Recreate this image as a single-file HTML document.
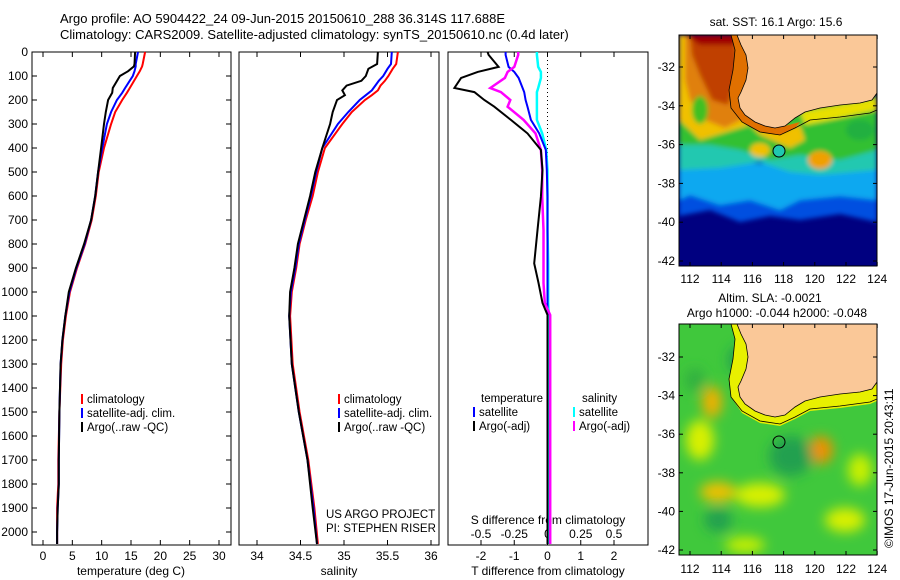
<!DOCTYPE html>
<html><head><meta charset="utf-8">
<style>
html,body{margin:0;padding:0;background:#fff;}
svg{display:block;font-family:"Liberation Sans",sans-serif;}
</style></head>
<body>
<svg id="fig" width="900" height="580" viewBox="0 0 900 580" xmlns="http://www.w3.org/2000/svg">
<defs>
<clipPath id="clipTop"><rect x="679" y="35" width="198" height="231"/></clipPath>
<clipPath id="clipBot"><rect x="679" y="324" width="198" height="231"/></clipPath>
<filter id="blur6"><feGaussianBlur stdDeviation="6"/></filter>
<filter id="blur3"><feGaussianBlur stdDeviation="2.5"/></filter>
</defs>
<text x="60" y="23" font-size="13">Argo profile: AO 5904422_24 09-Jun-2015 20150610_288 36.314S 117.688E</text>
<text x="60" y="39" font-size="13">Climatology: CARS2009. Satellite-adjusted climatology: synTS_20150610.nc (0.4d later)</text>

<!-- top map -->
<g clip-path="url(#clipTop)">
 <rect x="679" y="35" width="198" height="231" fill="#000080"/>
 <g filter="url(#blur3)">
  <polygon points="679,180 877,180 877,222 840,214 800,220 770,216 740,222 710,210 679,216" fill="#0050e0"/>
  <polygon points="679,162 877,165 877,200 840,196 800,200 780,210 750,200 720,205 690,195 679,200" fill="#10a8f0"/>
  <polygon points="679,140 877,140 877,170 820,175 790,172 760,162 720,168 679,170" fill="#20c8b0"/>
  <polygon points="679,95 877,95 877,150 840,160 800,155 770,160 740,150 710,145 679,145" fill="#30c030"/>
  <polygon points="679,35 740,35 745,120 760,135 790,148 805,140 800,125 780,130 750,125 700,140 679,120" fill="#f0c000"/>
  <polygon points="685,35 740,35 742,90 740,110 755,125 785,132 790,128 770,125 745,118 725,128 705,120 690,100 685,80" fill="#e08010"/>
  <polygon points="690,35 735,35 738,70 728,105 712,100 700,75 692,55" fill="#c04000"/>
  <polygon points="685,35 740,35 735,45 700,45" fill="#a00000"/>
  <polygon points="800,112 877,98 877,110 840,118 805,125" fill="#e8e000"/>
  <ellipse cx="820" cy="160" rx="12" ry="9" fill="#f0a000"/>
  <ellipse cx="760" cy="150" rx="10" ry="7" fill="#f0c000"/>
  <ellipse cx="860" cy="130" rx="14" ry="10" fill="#20b040"/>
  <ellipse cx="700" cy="110" rx="8" ry="14" fill="#40c020"/>
 </g>
 <polygon points="731,35 735,50 733,70 729,90 731,108 742,122 760,132 780,135 795,128 800,122 785,126 775,128 765,126 755,122 745,115 740,108 738,98 741,92 746,80 748,68 746,55 741,45 737,35" fill="#e07000"/>
 <polygon points="737,35 741,45 746,55 748,68 746,80 741,92 738,98 740,108 745,115 755,122 765,126 775,128 785,126 795,118 805,112 820,108 840,105 860,103 872,100 877,93 877,35" fill="#fac898" stroke="#000" stroke-width="0.8"/>
 <polyline points="731,35 735,50 733,70 729,90 731,108 742,122 760,132 780,135 795,128 810,120 840,117 870,113 877,110" fill="none" stroke="#000" stroke-width="0.8"/>
 <circle cx="779" cy="151" r="6" fill="#20c8b0" stroke="#000" stroke-width="1"/>
</g>
<rect x="679" y="35" width="198" height="231" fill="none" stroke="#000" stroke-width="1"/>
<text x="776" y="26" font-size="12" text-anchor="middle">sat. SST: 16.1  Argo: 15.6</text>

<!-- bottom map -->
<g clip-path="url(#clipBot)">
 <rect x="679" y="324" width="198" height="231" fill="#40c83c"/>
 <g filter="url(#blur6)">
  <ellipse cx="712" cy="402" rx="10" ry="16" fill="#f0b000"/>
  <ellipse cx="821" cy="450" rx="12" ry="14" fill="#f09000"/>
  <ellipse cx="718" cy="492" rx="18" ry="10" fill="#f0c000"/>
  <ellipse cx="760" cy="495" rx="25" ry="12" fill="#d8f000"/>
  <ellipse cx="845" cy="520" rx="20" ry="12" fill="#d8f000"/>
  <ellipse cx="700" cy="440" rx="14" ry="20" fill="#d8f000"/>
  <ellipse cx="860" cy="470" rx="12" ry="16" fill="#c8f000"/>
  <ellipse cx="745" cy="545" rx="20" ry="8" fill="#c8f000"/>
  <ellipse cx="791" cy="456" rx="22" ry="20" fill="#20a050"/>
  <ellipse cx="718" cy="520" rx="14" ry="12" fill="#20a050"/>
  <ellipse cx="740" cy="360" rx="12" ry="14" fill="#20a050"/>
  <ellipse cx="695" cy="380" rx="10" ry="12" fill="#30b040"/>
 </g>
 <g transform="translate(0,289)">
  <polygon points="731,35 735,50 733,70 729,90 731,108 742,124 760,134 780,137 795,130 810,122 840,119 870,115 877,112 877,35" fill="#e8f000"/>
  <polygon points="737,35 741,45 746,55 748,68 746,80 741,92 738,98 740,108 745,115 755,122 765,126 775,128 785,126 795,118 805,112 820,108 840,105 860,103 872,100 877,93 877,35" fill="#fac898" stroke="#000" stroke-width="0.8"/>
  <polyline points="731,35 735,50 733,70 729,90 731,108 742,122 760,132 780,135 795,128 810,120 840,117 870,113 877,110" fill="none" stroke="#000" stroke-width="0.8"/>
 </g>
 <circle cx="779" cy="442" r="6" fill="none" stroke="#000" stroke-width="1"/>
</g>
<rect x="679" y="324" width="198" height="231" fill="none" stroke="#000" stroke-width="1"/>
<text x="770" y="302" font-size="12" text-anchor="middle">Altim. SLA: -0.0021</text>
<text x="777" y="317" font-size="12" text-anchor="middle">Argo h1000: -0.044 h2000: -0.048</text>
<text font-size="12" transform="translate(893,548) rotate(-90)">©IMOS 17-Jun-2015 20:43:11</text>
<g id="plots"></g>
</svg>
<script>
// shared depth axis
const depthTicks = [0,100,200,300,400,500,600,700,800,900,1000,1100,1200,1300,1400,1500,1600,1700,1800,1900,2000];
// temperature panel
const tDepth = [0,50,60,80,100,150,170,200,250,300,400,500,600,700,800,900,1000,1100,1200,1300,1500,1700,1800,1900,2000,2050];
const tClim  = [17.4,17.0,16.9,16.5,16.0,14.8,14.3,13.5,12.3,11.6,10.4,9.5,9.0,8.3,7.2,5.8,4.6,3.9,3.4,3.1,2.8,2.6,2.6,2.4,2.4,2.4];
const tSat   = [16.2,15.8,15.8,15.6,15.3,14.0,13.5,12.6,11.6,10.9,10.1,9.4,8.9,8.2,7.1,5.7,4.5,3.8,3.3,3.0,2.8,2.7,2.7,2.5,2.4,2.4];
const tArgo  = [15.7,15.6,15.5,14.5,13.1,11.9,11.8,11.1,10.7,10.4,9.9,9.4,8.9,8.2,7.0,5.6,4.4,3.8,3.3,3.0,2.8,2.7,2.7,2.5,2.4,2.4];
const tTicks = [0,5,10,15,20,25,30];
// salinity panel
const sDepth = [0,50,70,100,120,140,160,180,200,250,300,400,500,600,700,800,900,1000,1100,1300,1500,1700,1900,2050];
const sClim  = [35.62,35.60,35.56,35.51,35.47,35.42,35.39,35.32,35.24,35.09,34.98,34.78,34.70,34.64,34.56,34.49,34.45,34.40,34.38,34.41,34.49,34.59,34.66,34.70];
const sSat   = [35.55,35.54,35.50,35.45,35.40,35.36,35.32,35.25,35.18,35.05,34.93,34.75,34.68,34.62,34.55,34.48,34.44,34.39,34.37,34.40,34.48,34.58,34.65,34.69];
const sArgo  = [35.39,35.38,35.28,35.25,35.20,35.03,34.98,35.01,34.92,34.87,34.84,34.75,34.67,34.61,34.54,34.47,34.43,34.38,34.37,34.40,34.48,34.58,34.64,34.69];
const sTicks = [34,34.5,35,35.5,36];
// difference panel
const dDepth   = [0,12,62,83,108,150,167,200,228,283,339,408,492,603,742,881,962,1046,1096,1300,1600,2050];
const dTArgo   = [-1.8,-1.77,-1.47,-2.1,-2.6,-2.8,-2.2,-1.9,-1.6,-1.1,-0.6,-0.2,-0.15,-0.2,-0.3,-0.4,-0.27,-0.15,0,0,0,0];
const dTSat    = [-1.26,-1.26,-1.17,-1.0,-0.87,-0.75,-0.7,-0.66,-0.6,-0.5,-0.25,-0.05,-0.02,0,0,0,0,0,0,0,0,0];
const dSArgo   = [-0.22,-0.22,-0.25,-0.3,-0.32,-0.43,-0.35,-0.28,-0.3,-0.18,-0.09,-0.05,-0.04,-0.04,-0.03,-0.03,-0.03,-0.02,0.02,0.02,0.02,0.02];
const dSSat    = [-0.08,-0.08,-0.07,-0.05,-0.05,-0.07,-0.08,-0.08,-0.08,-0.08,-0.04,-0.01,0,0,0,0.005,0.005,0.005,0.01,0.01,0.01,0.01];
const dTTicks = [-2,-1,0,1,2];
const dSTicks = [-0.5,-0.25,0,0.25,0.5];
// map ticks
const lonTicks = [112,114,116,118,120,122,124];
const latTicks = [-32,-34,-36,-38,-40,-42];

const NS='http://www.w3.org/2000/svg';
const root=document.getElementById('plots');
function mk(tag,attrs,parent){const e=document.createElementNS(NS,tag);for(const k in attrs)e.setAttribute(k,attrs[k]);(parent||root).appendChild(e);return e;}
const Y0=52, YB=545;
function yD(d){return Y0+d*0.24;}
function panelX(x0,x1,v0,v1){return v=>x0+(v-v0)*(x1-x0)/(v1-v0);}
const xT=panelX(43,219,0,30);
const xS=panelX(257,431,34,36);
const xDT=panelX(481,614,-2,2);
const xDS=panelX(481,614,-0.5,0.5);

function frame(x0,x1,name){
  const r=mk('rect',{x:x0,y:Y0,width:x1-x0,height:YB-Y0,fill:'none',stroke:'#000','stroke-width':1});
  
  
}
function line(depths,vals,xf,color,name,w){
  let d='';
  for(let i=0;i<depths.length;i++){d+=(i?'L':'M')+xf(vals[i]).toFixed(1)+','+yD(depths[i]).toFixed(1);}
  const p=mk('path',{d:d,fill:'none',stroke:color,'stroke-width':w||2});
  
  
}
function xticks(ticks,xf,yLab,fmt,name){
  ticks.forEach(t=>{
    const x=xf(t);
    mk('line',{x1:x,x2:x,y1:YB,y2:YB-5,stroke:'#000'});
    mk('line',{x1:x,x2:x,y1:Y0,y2:Y0+5,stroke:'#000'});
    const tx=mk('text',{x:x,y:yLab,'font-size':12,'text-anchor':'middle'});
    tx.textContent=fmt?fmt(t):String(t);
    
    
  });
}
function legend(x,y,items){
  items.forEach((it,i)=>{
    const yy=y+i*14;
    mk('rect',{x:x,y:yy-9,width:2,height:10,fill:it[0]});
    const t=mk('text',{x:x+6,y:yy,'font-size':11.5});
    t.textContent=it[1];
    
    
  });
}
function txt(x,y,s,name,anchor,size){
  const t=mk('text',{x:x,y:y,'font-size':size||12,'text-anchor':anchor||'start'});
  t.textContent=s;
  
  
}

// panel 1
frame(32,231,'temperature-panel');
depthTicks.forEach(d=>{
  const y=yD(d);
  mk('line',{x1:32,x2:37,y1:y,y2:y,stroke:'#000'});
  mk('line',{x1:226,x2:231,y1:y,y2:y,stroke:'#000'});
  const t=mk('text',{x:28,y:y+4,'font-size':12,'text-anchor':'end'});
  t.textContent=String(d);
  
  
});
xticks(tTicks,xT,560,null,'temperature-tick-label');
txt(131,575,'temperature (deg C)','temperature-axis-title','middle');
line(tDepth,tClim,xT,'#ff0000','temp-climatology-line');
line(tDepth,tSat,xT,'#0000ff','temp-satellite-line');
line(tDepth,tArgo,xT,'#000000','temp-argo-line');
legend(81,403,[['#ff0000','climatology'],['#0000ff','satellite-adj. clim.'],['#000','Argo(..raw -QC)']]);

// panel 2
frame(239,439,'salinity-panel');
xticks(sTicks,xS,560,null,'salinity-tick-label');
txt(339,575,'salinity','salinity-axis-title','middle');
line(sDepth,sClim,xS,'#ff0000','sal-climatology-line');
line(sDepth,sSat,xS,'#0000ff','sal-satellite-line');
line(sDepth,sArgo,xS,'#000000','sal-argo-line');
legend(338,403,[['#ff0000','climatology'],['#0000ff','satellite-adj. clim.'],['#000','Argo(..raw -QC)']]);
txt(326,518,'US ARGO PROJECT','project-label','start',11.5);
txt(326,532,'PI: STEPHEN RISER','pi-label','start',11.5);

// panel 3
frame(448,648,'difference-panel');
xticks(dTTicks,xDT,560,null,'tdiff-tick-label');
dSTicks.forEach(t=>{const x=xDS(t);const tx=mk('text',{x:x,y:538,'font-size':12,'text-anchor':'middle'});tx.textContent=String(t);});
txt(548,524,'S difference from climatology','sdiff-axis-title','middle');
txt(548,575,'T difference from climatology','tdiff-axis-title','middle');
mk('line',{x1:xDT(0),x2:xDT(0),y1:Y0,y2:YB,stroke:'#000','stroke-width':1,'stroke-dasharray':'1,3'});
line(dDepth,dSSat,xDS,'#00ffff','sdiff-satellite-line',2.5);
line(dDepth,dTSat,xDT,'#0000ff','tdiff-satellite-line');
line(dDepth,dSArgo,xDS,'#ff00ff','sdiff-argo-line',2.5);
line(dDepth,dTArgo,xDT,'#000000','tdiff-argo-line');
txt(481,402,'temperature','legend-temperature-header','start',11.5);
txt(582,402,'salinity','legend-salinity-header','start',11.5);
legend(473,416,[['#0000ff','satellite'],['#000','Argo(-adj)']]);
legend(573,416,[['#00ffff','satellite'],['#ff00ff','Argo(-adj)']]);

// map ticks
function lonX(l){return 690+(l-112)*15.6;}
function latTop(l){return 67+(-32-l)*19.4;}
function latBot(l){return 357+(-32-l)*19.3;}
[[latTop,35,266,277],[latBot,324,555,567]].forEach(m=>{
  lonTicks.forEach(l=>{
    const x=lonX(l);
    mk('line',{x1:x,x2:x,y1:m[2],y2:m[2]-4,stroke:'#000'});
    mk('line',{x1:x,x2:x,y1:m[1],y2:m[1]+4,stroke:'#000'});
    const t=mk('text',{x:x,y:m[3]+6,'font-size':12,'text-anchor':'middle'});
    t.textContent=String(l);
    
    
  });
  latTicks.forEach(l=>{
    const y=m[0](l);
    mk('line',{x1:679,x2:683,y1:y,y2:y,stroke:'#000'});
    mk('line',{x1:873,x2:877,y1:y,y2:y,stroke:'#000'});
    const t=mk('text',{x:675,y:y+4,'font-size':12,'text-anchor':'end'});
    t.textContent=String(l);
    
    
  });
});
</script>
</body></html>
